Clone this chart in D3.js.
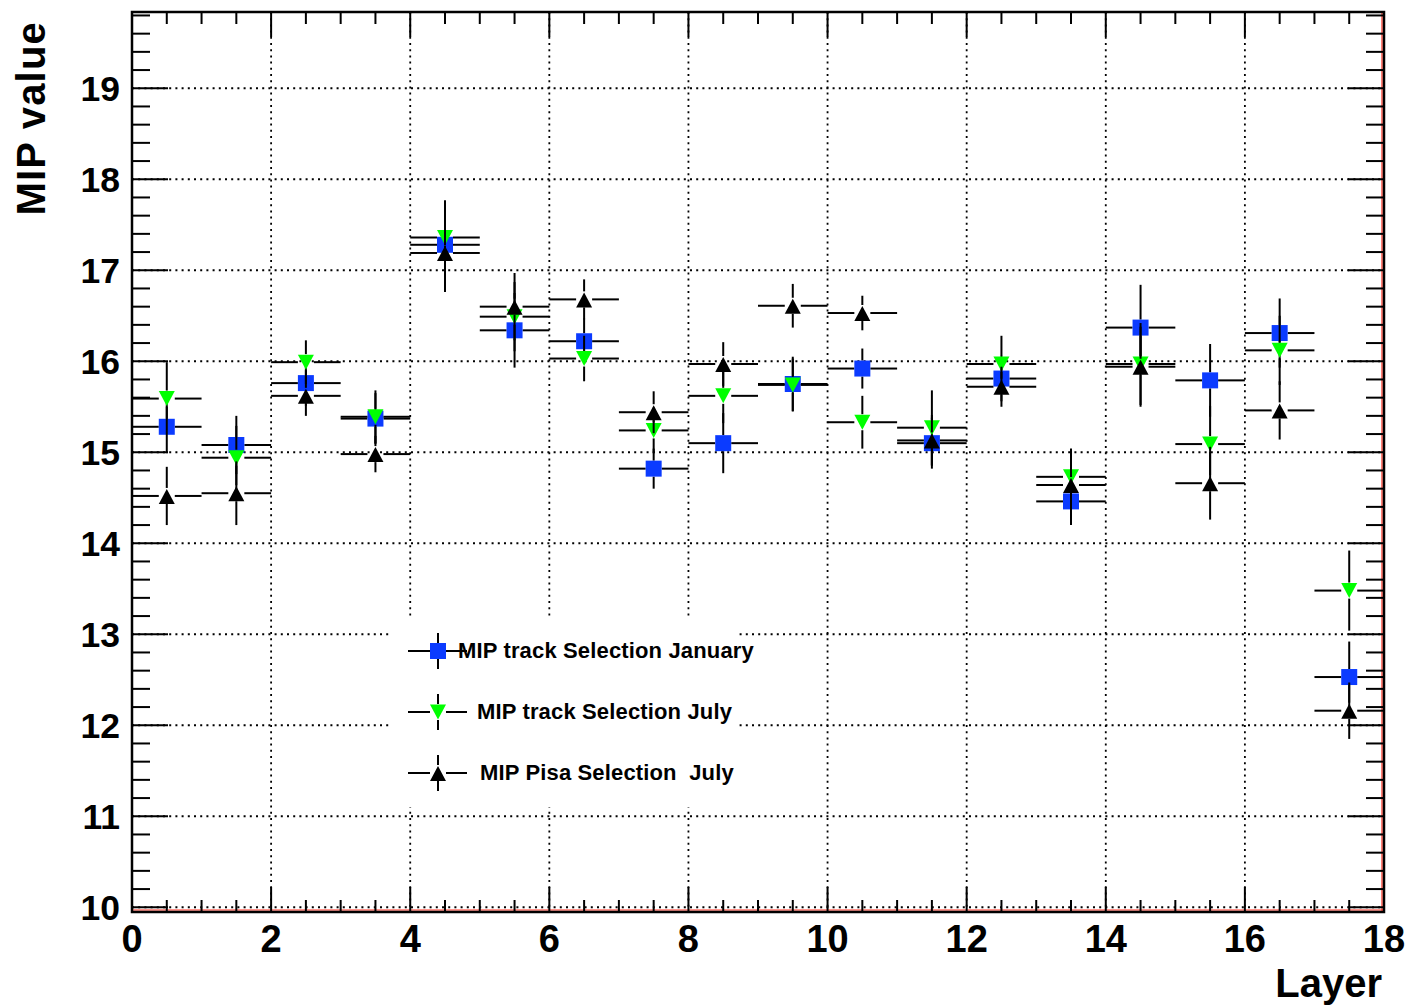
<!DOCTYPE html>
<html>
<head>
<meta charset="utf-8">
<script src="https://cdn.jsdelivr.net/npm/d3@7/dist/d3.min.js"></script>
<style>
  html, body { margin: 0; padding: 0; background: #fff; }
  svg { display: block; }
  text { font-family: "Liberation Sans", Arial, Helvetica, sans-serif; font-weight: bold; fill: #000; white-space: pre; }
</style>
</head>
<body>
<script>
// ---------------- data ----------------
const layers = [0.5, 1.5, 2.5, 3.5, 4.5, 5.5, 6.5, 7.5, 8.5, 9.5, 10.5, 11.5, 12.5, 13.5, 14.5, 15.5, 16.5, 17.5];

const januaryValues = [15.28, 15.08, 15.76, 15.37, 17.28, 16.34, 16.22, 14.82, 15.10, 15.75, 15.92, 15.10, 15.81, 14.46, 16.37, 15.79, 16.31, 12.53];
const januaryErrors = [0.29, 0.32, 0.25, 0.28, 0.40, 0.41, 0.25, 0.22, 0.33, 0.30, 0.22, 0.28, 0.25, 0.26, 0.47, 0.40, 0.38, 0.39];

const julyValues = [15.59, 14.94, 15.99, 15.39, 17.36, 16.49, 16.03, 15.24, 15.62, 15.74, 15.33, 15.27, 15.97, 14.73, 15.97, 15.09, 16.12, 13.48];
const julyErrors = [0.40, 0.35, 0.24, 0.29, 0.41, 0.38, 0.25, 0.25, 0.30, 0.29, 0.29, 0.41, 0.31, 0.31, 0.45, 0.42, 0.38, 0.44];

const pisaValues = [14.52, 14.55, 15.62, 14.98, 17.19, 16.60, 16.68, 15.44, 15.97, 16.61, 16.53, 15.13, 15.72, 14.64, 15.94, 14.66, 15.46, 12.16];
const pisaErrors = [0.32, 0.35, 0.22, 0.20, 0.43, 0.37, 0.22, 0.23, 0.24, 0.24, 0.19, 0.28, 0.22, 0.30, 0.44, 0.40, 0.32, 0.31];

const xTickLabels = [0, 2, 4, 6, 8, 10, 12, 14, 16, 18];
const yTickLabels = [10, 11, 12, 13, 14, 15, 16, 17, 18, 19];

const legendLabels = ["MIP track Selection January", "MIP track Selection July", "MIP Pisa Selection  July"];
const xTitle = "Layer";
const yTitle = "MIP value";

// ---------------- layout ----------------
const W = 1411, H = 1007;
const L = 132, R = 1384, T = 12, B = 912;

const svg = d3.select("body").append("svg").attr("width", W).attr("height", H);

const x = d3.scaleLinear().domain([0, 18]).range([L, R]);
const y = d3.scaleLinear().domain([9.948, 19.838]).range([B, T]);

// grid (dotted)
const grid = svg.append("g").attr("stroke", "#000").attr("stroke-width", 1.8).attr("stroke-dasharray", "2,4.2");
grid.selectAll("line.gx").data(xTickLabels.filter(d => d > 0 && d < 18)).enter().append("line")
  .attr("x1", d => x(d)).attr("x2", d => x(d)).attr("y1", T).attr("y2", B);
grid.selectAll("line.gy").data(yTickLabels).enter().append("line")
  .attr("x1", L).attr("x2", R).attr("y1", d => y(d)).attr("y2", d => y(d));

// red pad lines
svg.append("line").attr("x1", L).attr("x2", R).attr("y1", B - 2).attr("y2", B - 2).attr("stroke", "#ff2a1a").attr("stroke-width", 1.2);
svg.append("line").attr("x1", R - 2).attr("x2", R - 2).attr("y1", T).attr("y2", B).attr("stroke", "#ff2a1a").attr("stroke-width", 1.2);

// ticks
const ticks = svg.append("g").attr("stroke", "#000").attr("stroke-width", 2);
const xMinor = d3.range(0, 18.001, 0.5);
xMinor.forEach(v => {
  const major = Math.abs(v / 2 - Math.round(v / 2)) < 1e-6;
  const len = major ? 25 : 12;
  ticks.append("line").attr("x1", x(v)).attr("x2", x(v)).attr("y1", B).attr("y2", B - len);
  ticks.append("line").attr("x1", x(v)).attr("x2", x(v)).attr("y1", T).attr("y2", T + len);
});
const yMinor = d3.range(10, 19.81, 0.2);
yMinor.forEach(v => {
  const major = Math.abs(v - Math.round(v)) < 1e-6;
  const len = major ? 36 : 18;
  ticks.append("line").attr("x1", L).attr("x2", L + len).attr("y1", y(v)).attr("y2", y(v));
  ticks.append("line").attr("x1", R).attr("x2", R - len).attr("y1", y(v)).attr("y2", y(v));
});

// frame
svg.append("rect").attr("x", L).attr("y", T).attr("width", R - L).attr("height", B - T)
  .attr("fill", "none").attr("stroke", "#000").attr("stroke-width", 2.5);

// tick labels
svg.append("g").selectAll("text").data(xTickLabels).enter().append("text")
  .attr("x", d => x(d)).attr("y", 952).attr("text-anchor", "middle").attr("font-size", 38).text(d => d);
svg.append("g").selectAll("text").data(yTickLabels).enter().append("text")
  .attr("x", 120).attr("y", d => y(d) + 12.5).attr("text-anchor", "end").attr("font-size", 35.5).text(d => d);

// axis titles
svg.append("text").attr("x", R - 2).attr("y", 997).attr("text-anchor", "end").attr("font-size", 40).text(xTitle);
svg.append("text").attr("transform", "translate(45,21) rotate(-90)").attr("text-anchor", "end")
  .attr("font-size", 40).attr("letter-spacing", 1.2).text(yTitle);

// legend box (white, hides grid)
svg.append("rect").attr("x", 392).attr("y", 619).attr("width", 345).attr("height", 188).attr("fill", "#fff");

// ---------------- series ----------------
const BLUE = "#0b3bff", GREEN = "#00ff00", BLACK = "#000";
const series = [
  { values: januaryValues, errors: januaryErrors, color: BLUE, shape: "square" },
  { values: julyValues, errors: julyErrors, color: GREEN, shape: "down" },
  { values: pisaValues, errors: pisaErrors, color: BLACK, shape: "up" }
];

function markerPath(shape, cx, cy) {
  if (shape === "square") return `M${cx - 8},${cy - 8}h16v16h-16Z`;
  if (shape === "up") return `M${cx},${cy - 7}L${cx + 8},${cy + 8}L${cx - 8},${cy + 8}Z`;
  return `M${cx - 8},${cy - 7.5}L${cx + 8},${cy - 7.5}L${cx},${cy + 7.5}Z`;
}

function drawErrors(g, cx, cy, xl, xr, yt, yb, gap) {
  const segs = [];
  if (xl < cx - gap) segs.push([xl, cy, cx - gap, cy]);
  if (xr > cx + gap) segs.push([cx + gap, cy, xr, cy]);
  if (yt < cy - gap) segs.push([cx, yt, cx, cy - gap]);
  if (yb > cy + gap) segs.push([cx, cy + gap, cx, yb]);
  segs.forEach(s => g.append("line").attr("x1", s[0]).attr("y1", s[1]).attr("x2", s[2]).attr("y2", s[3])
    .attr("stroke", "#000").attr("stroke-width", 2));
}

series.forEach(s => {
  const g = svg.append("g");
  layers.forEach((lx, i) => {
    const v = s.values[i], e = s.errors[i];
    const cx = x(lx), cy = y(v);
    drawErrors(g, cx, cy, x(lx - 0.5), x(lx + 0.5), y(v + e), y(v - e), 8);
  });
  g.selectAll("path").data(layers).enter().append("path")
    .attr("d", (lx, i) => markerPath(s.shape, x(lx), y(s.values[i])))
    .attr("fill", s.color);
});

// ---------------- legend ----------------
const legRowY = [651, 712, 773];
const legTextX = [458, 477, 480];
const legMarkX = 438;
series.forEach((s, i) => {
  const g = svg.append("g");
  const cy = legRowY[i];
  drawErrors(g, legMarkX, cy, 408, 467, cy - 18, cy + 18, 8);
  g.append("path").attr("d", markerPath(s.shape, legMarkX, cy)).attr("fill", s.color);
  g.append("text").attr("x", legTextX[i]).attr("y", cy + 7).attr("font-size", 22)
    .attr("letter-spacing", 0.15).attr("xml:space", "preserve").text(legendLabels[i]);
});
</script>
</body>
</html>
